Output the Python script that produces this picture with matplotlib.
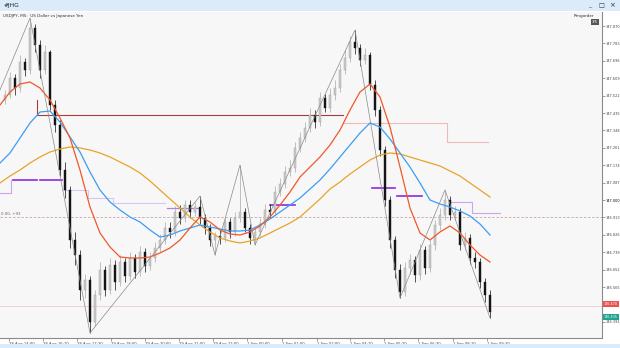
import matplotlib
matplotlib.use("Agg")
import matplotlib.pyplot as plt
from matplotlib.patches import Rectangle
import numpy as np

# ---- candles (USDJPY) ----
first_open = 147.500
closes = [147.525, 147.610, 147.560, 147.690, 147.650, 147.860, 147.775, 147.650, 147.740, 147.475,
          147.375, 147.150, 147.050, 146.800, 146.725, 146.550, 146.600, 146.390, 146.525, 146.650,
          146.550, 146.675, 146.590, 146.690, 146.620, 146.710, 146.640, 146.740, 146.670, 146.710,
          146.760, 146.800, 146.860, 146.840, 146.940, 146.910, 146.975, 146.940, 146.965, 146.910,
          146.860, 146.800, 146.820, 146.810, 146.890, 146.840, 146.910, 146.940, 146.860, 146.810,
          146.840, 146.880, 146.950, 146.940, 147.040, 147.080, 147.140, 147.160, 147.260, 147.310,
          147.360, 147.425, 147.390, 147.510, 147.460, 147.525, 147.560, 147.650, 147.710, 147.790,
          147.760, 147.700, 147.725, 147.575, 147.450, 147.250, 147.000, 146.800, 146.650, 146.540,
          146.660, 146.700, 146.625, 146.750, 146.660, 146.775, 146.875, 146.925, 147.000, 146.925,
          146.940, 146.775, 146.810, 146.710, 146.690, 146.590, 146.525, 146.440]
highs = [147.550, 147.640, 147.630, 147.725, 147.710, 147.910, 147.880, 147.800, 147.775, 147.750,
         147.500, 147.400, 147.190, 147.070, 146.840, 146.750, 146.630, 146.620, 146.550, 146.690,
         146.670, 146.710, 146.700, 146.725, 146.710, 146.740, 146.730, 146.770, 146.760, 146.740,
         146.790, 146.830, 146.890, 146.890, 146.970, 146.975, 147.000, 147.000, 146.990, 147.020,
         146.930, 146.880, 146.840, 146.850, 146.910, 146.910, 146.940, 147.175, 146.960, 146.880,
         146.860, 146.910, 146.980, 146.980, 147.070, 147.110, 147.170, 147.200, 147.290, 147.340,
         147.390, 147.460, 147.450, 147.540, 147.530, 147.560, 147.600, 147.680, 147.750, 147.820,
         147.850, 147.780, 147.760, 147.740, 147.600, 147.470, 147.270, 147.020, 146.820, 146.680,
         146.690, 146.730, 146.720, 146.780, 146.770, 146.800, 146.900, 146.960, 147.050, 147.020,
         146.970, 146.960, 146.840, 146.830, 146.740, 146.710, 146.610, 146.550]
lows = [147.480, 147.510, 147.525, 147.540, 147.620, 147.630, 147.740, 147.610, 147.630, 147.450,
        147.340, 147.120, 147.010, 146.760, 146.675, 146.500, 146.510, 146.335, 146.370, 146.500,
        146.520, 146.530, 146.550, 146.570, 146.590, 146.600, 146.610, 146.620, 146.640, 146.650,
        146.690, 146.740, 146.780, 146.810, 146.820, 146.880, 146.890, 146.910, 146.920, 146.880,
        146.830, 146.770, 146.725, 146.780, 146.790, 146.810, 146.820, 146.890, 146.840, 146.780,
        146.775, 146.820, 146.860, 146.910, 146.920, 147.020, 147.060, 147.120, 147.140, 147.240,
        147.290, 147.340, 147.360, 147.370, 147.440, 147.440, 147.500, 147.540, 147.630, 147.690,
        147.730, 147.670, 147.680, 147.550, 147.420, 147.220, 146.970, 146.760, 146.610, 146.510,
        146.520, 146.630, 146.590, 146.600, 146.630, 146.640, 146.750, 146.850, 146.900, 146.900,
        146.900, 146.750, 146.750, 146.680, 146.660, 146.560, 146.490, 146.410]
opens = [first_open] + closes[:-1]

# ---- moving averages, sampled every 2 bars ----
ma_idx = list(range(-1, 98, 2))
ma_red = [147.475, 147.540, 147.580, 147.590, 147.560, 147.500, 147.410, 147.310, 147.150, 146.965,
          146.835, 146.765, 146.715, 146.710, 146.710, 146.715, 146.735, 146.760, 146.800, 146.860,
          146.915, 146.890, 146.850, 146.830, 146.825, 146.840, 146.870, 146.915, 146.975, 147.040,
          147.115, 147.165, 147.215, 147.275, 147.350, 147.450, 147.540, 147.580, 147.515, 147.365,
          147.165, 146.960, 146.835, 146.800, 146.840, 146.870, 146.835, 146.775, 146.725, 146.690]
ma_blue = [147.185, 147.235, 147.310, 147.385, 147.440, 147.445, 147.390, 147.315, 147.240, 147.140,
           147.050, 146.990, 146.950, 146.915, 146.890, 146.850, 146.815, 146.825, 146.845, 146.860,
           146.875, 146.865, 146.855, 146.845, 146.845, 146.850, 146.875, 146.905, 146.940, 146.975,
           147.010, 147.055, 147.100, 147.155, 147.215, 147.275, 147.335, 147.385, 147.365, 147.305,
           147.235, 147.165, 147.085, 147.000, 146.980, 146.965, 146.945, 146.920, 146.880, 146.825]
ma_orange = [147.085, 147.120, 147.150, 147.185, 147.215, 147.240, 147.255, 147.265, 147.260, 147.250,
             147.235, 147.215, 147.190, 147.165, 147.135, 147.095, 147.050, 147.005, 146.960, 146.915,
             146.875, 146.840, 146.810, 146.795, 146.785, 146.795, 146.810, 146.835, 146.860, 146.885,
             146.915, 146.960, 147.005, 147.055, 147.090, 147.130, 147.165, 147.200, 147.225, 147.235,
             147.230, 147.215, 147.200, 147.185, 147.170, 147.145, 147.120, 147.085, 147.050, 147.015]

# ---- zigzag ----
zz_idx = [-1, 5, 17, 39, 42, 47, 50, 70, 79, 88, 97]
zz_price = [147.550, 147.910, 146.335, 147.020, 146.725, 147.175, 146.775, 147.850, 146.510, 147.050, 146.410]

# ---- step levels ----
brown_idx = [6.4, 6.4, 67.6]
brown_lvl = [147.500, 147.425, 147.425]
pink_idx = [67.6, 88.4, 88.4, 96.6]
pink_lvl = [147.385, 147.385, 147.290, 147.290]
purple_dark = [(1.6, 6.4, 147.100), (7.0, 11.4, 147.100), (53.0, 58.0, 146.975),
               (73.4, 78.0, 147.060), (78.4, 83.4, 147.020)]
purple_mid = [(32.4, 39.0, 146.960)]
purple_light_idx = [-1, 1.2, 1.2]
purple_light_lvl = [147.035, 147.035, 147.100]
purple_light2_idx = [11.6, 16.6, 16.6, 21.6, 21.6, 32.0]
purple_light2_lvl = [147.050, 147.050, 147.010, 147.010, 146.985, 146.985]
purple_light3_idx = [89.0, 93.4, 93.4, 99.0]
purple_light3_lvl = [146.990, 146.990, 146.935, 146.935]

level_line = 146.915
bid = 146.470
ask = 146.435

yticks = [147.870, 147.783, 147.696, 147.609, 147.522, 147.435, 147.348, 147.261, 147.174,
          147.087, 147.000, 146.913, 146.826, 146.739, 146.652, 146.565, 146.478, 146.391]
xtick_pos = [0.8, 7.6, 14.4, 21.2, 28, 34.8, 41.6, 48.4, 55.4, 62.4, 69, 75.8, 82.6, 89.6, 96.4]
xtick_lab = ["28 Aug 14:00", "28 Aug 16:10", "28 Aug 17:30", "29 Aug 18:00", "29 Aug 20:00",
             "29 Aug 21:00", "29 Aug 22:00", "1 Sep 00:00", "1 Sep 01:00", "1 Sep 02:00",
             "1 Sep 04:10", "1 Sep 05:20", "1 Sep 06:30", "1 Sep 08:10", "1 Sep 09:20"]

YMIN, YMAX = 146.31, 147.94

fig = plt.figure(figsize=(6.2, 3.48), dpi=100)
fig.patch.set_facecolor("white")
ax = fig.add_axes([0, 10 / 348, 602 / 620, 326 / 348])
ax.set_facecolor("#f7f7f7")

# candles
idx = np.arange(len(closes))
o = np.array(opens); c = np.array(closes); h = np.array(highs); l = np.array(lows)
up = c >= o
ax.vlines(idx[up], l[up], h[up], color="#a8a8a8", lw=0.5, zorder=3)
ax.vlines(idx[~up], l[~up], h[~up], color="#111111", lw=0.5, zorder=3)
ax.bar(idx[up], (c - o)[up] + 0.004, bottom=o[up] - 0.002, width=0.5,
       color="#cacaca", edgecolor="#a0a0a0", lw=0.3, zorder=4)
ax.bar(idx[~up], (o - c)[~up] + 0.004, bottom=c[~up] - 0.002, width=0.5,
       color="#151515", edgecolor="#151515", lw=0.3, zorder=4)

# indicators
ax.plot(ma_idx, ma_orange, color="#e8a427", lw=0.9, zorder=5)
ax.plot(ma_idx, ma_blue, color="#3d9cf5", lw=0.9, zorder=5)
ax.plot(ma_idx, ma_red, color="#f0582a", lw=0.9, zorder=5)
ax.plot(zz_idx, zz_price, color="#8a8a8a", lw=0.5, zorder=6)

ax.plot(brown_idx, brown_lvl, color="#a83c3c", lw=0.8, zorder=2)
ax.plot(pink_idx, pink_lvl, color="#ecbcbc", lw=0.8, zorder=2)
for a, b, v in purple_dark:
    ax.plot([a, b], [v, v], color="#8a2be2", lw=1.2, zorder=2)
for a, b, v in purple_mid:
    ax.plot([a, b], [v, v], color="#b080e0", lw=0.9, zorder=2)
ax.plot(purple_light_idx, purple_light_lvl, color="#c9a6ee", lw=0.8, zorder=2)
ax.plot(purple_light2_idx, purple_light2_lvl, color="#dcc4f2", lw=0.8, zorder=2)
ax.plot(purple_light3_idx, purple_light3_lvl, color="#c9a6ee", lw=0.8, zorder=2)

ax.axhline(level_line, color="#c8a8a8", lw=0.6, ls=(0, (3, 2)), zorder=1)
ax.axhline(bid, color="#f6c8c8", lw=0.6, zorder=1)
ax.text(-0.8, level_line + 0.005, "0.00, +93", fontsize=2.8, color="#666666", va="bottom")

ax.set_xlim(-1, 119.4)
ax.set_ylim(YMIN, YMAX)

# right price scale; the label under the bid/ask boxes is hidden by them
ax.yaxis.tick_right()
ax.set_yticks(yticks)
ylabels = ["%.3f" % v for v in yticks]
ylabels[16] = ""
ax.set_yticklabels(ylabels, fontsize=2.5, color="#444444")
ax.get_yticklabels()[10].set_color("#000000")
ax.set_xticks(xtick_pos)
ax.set_xticklabels(xtick_lab, fontsize=2.7, color="#444444", ha="left")
ax.tick_params(axis="both", length=2, width=0.5, color="#777777", pad=0.8)
for s in ["left", "top"]:
    ax.spines[s].set_visible(False)
for s in ["right", "bottom"]:
    ax.spines[s].set_color("#8a8a8a")
    ax.spines[s].set_linewidth(0.8)

# price boxes on the right axis
ax.text(1.003, (bid - YMIN) / (YMAX - YMIN) + 0.006, "%.3f" % bid, transform=ax.transAxes,
        fontsize=2.4, color="white", va="center", ha="left", zorder=10,
        bbox=dict(boxstyle="square,pad=0.25", fc="#ee5050", ec="none"))
ax.text(1.003, (ask - YMIN) / (YMAX - YMIN) - 0.012, "%.3f" % ask, transform=ax.transAxes,
        fontsize=2.4, color="white", va="center", ha="left", zorder=10,
        bbox=dict(boxstyle="square,pad=0.25", fc="#1fa38e", ec="none"))

# window chrome
fig.patches.append(Rectangle((0, 1 - 11 / 348), 1, 11 / 348, transform=fig.transFigure,
                             fc="#dcebf9", ec="none", zorder=0))
fig.patches.append(Rectangle((0, 0), 1, 4 / 348, transform=fig.transFigure,
                             fc="#dcebf9", ec="none", zorder=0))
fig.text(4 / 620, 1 - 5.5 / 348, "#JHG", fontsize=4.2, color="#222222", va="center")
fig.text(588 / 620, 1 - 5.5 / 348, "_", fontsize=4.5, color="#333333", va="center")
fig.text(598 / 620, 1 - 5.5 / 348, "\u25a1", fontsize=4.5, color="#333333", va="center")
fig.text(609 / 620, 1 - 5.5 / 348, "\u00d7", fontsize=5, color="#333333", va="center")
fig.text(3 / 620, 1 - 16 / 348, "USDJPY, M5:  US Dollar vs Japanese Yen", fontsize=3.0,
         color="#333333", va="center")
fig.text(574 / 620, 1 - 16 / 348, "Rmgorder", fontsize=3.0, color="#333333", va="center")
fig.text(592 / 620, 1 - 22 / 348, "3/5", fontsize=2.8, color="white", va="center",
         bbox=dict(boxstyle="square,pad=0.3", fc="#555555", ec="none"))

fig.savefig("out.png", dpi=100)
